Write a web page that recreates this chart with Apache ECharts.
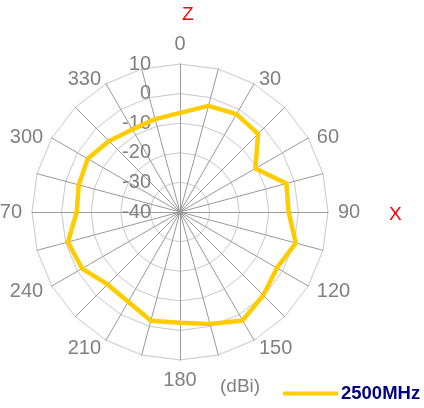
<!DOCTYPE html>
<html>
<head>
<meta charset="utf-8">
<script src="https://cdn.jsdelivr.net/npm/echarts@6/dist/echarts.min.js"></script>
<style>
  html, body { margin: 0; padding: 0; background: #fff; }
  #chart { width: 424px; height: 408px; }
</style>
</head>
<body>
<div id="chart"></div>
<script>
// Radiation pattern, gain in dBi, sampled every 15 degrees clockwise from Z (0°)
const angles = [0, 15, 30, 45, 60, 75, 90, 105, 120, 135, 150, 165,
                180, 195, 210, 225, 240, 255, 270, 285, 300, 315, 330, 345];
const gain2500 = [-6.5, -2.9, -1.8, -2.7, -10.6, -2.8, -3.3, 0.5, -2.2, -0.2, 2.3, -0.8,
                  -2.6, -2.0, -5.0, -5.4, -1.8, -0.8, -5.1, -4.6, -4.0, -6.1, -7.8, -7.5];
const seriesName = '2500MHz';
const gainMin = -40;
const gainMax = 10;

const FONT = 'Liberation Sans, Arial, sans-serif';
const GREY = '#808080';

// Radar indicators run counter-clockwise from the top, so walk the angles backwards
const order = angles.map((_, i) => (angles.length - i) % angles.length);
const indicators = order.map((idx, i) => {
  const deg = angles[idx];
  const ind = { name: deg % 30 === 0 ? String(deg) : '', min: gainMin, max: gainMax };
  if (i === 0) ind.axisLabel = { show: true };
  return ind;
});
const values = order.map(idx => gain2500[idx]);

// the upper diagonal angle names sit a little lower, closer to their spokes
const lowered = ['30', '60', '300', '330'];

const chart = echarts.init(document.getElementById('chart'), null, { renderer: 'canvas' });
chart.setOption({
  animation: false,
  backgroundColor: '#fff',
  legend: {
    left: 283, top: 384, padding: 0,
    icon: 'rect', itemWidth: 55, itemHeight: 4, itemGap: 0,
    data: [seriesName],
    textStyle: { color: '#000080', fontWeight: 'bold', fontSize: 18.5, fontFamily: FONT, padding: [0, 0, 0, -2] }
  },
  radar: {
    center: [180, 212],
    radius: 148,
    startAngle: 90,
    shape: 'polygon',
    splitNumber: 5,
    indicator: indicators,
    axisName: {
      color: GREY, fontSize: 20, fontFamily: FONT,
      formatter: name => lowered.includes(name) ? '{low|' + name + '}' : name,
      rich: { low: { color: GREY, fontSize: 20, fontFamily: FONT, padding: [0, 0, -8, 0] } }
    },
    nameGap: 10,
    axisLine: { lineStyle: { color: '#999', width: 1 } },
    splitLine: { lineStyle: { color: '#c8c8c8', width: 1 } },
    splitArea: { show: false },
    axisTick: { show: false },
    axisLabel: { show: false, color: GREY, fontSize: 20, fontFamily: FONT, margin: 29 }
  },
  graphic: [
    { type: 'text', left: 182, top: 5, style: { text: 'Z', fill: '#ff0000', fontSize: 19, fontFamily: FONT } },
    { type: 'text', left: 389, top: 205, style: { text: 'X', fill: '#ff0000', fontSize: 19, fontFamily: FONT } },
    { type: 'text', left: 220, top: 377, style: { text: '(dBi)', fill: GREY, fontSize: 19, fontFamily: FONT } }
  ],
  series: [{
    type: 'radar',
    name: seriesName,
    symbol: 'none',
    lineStyle: { color: '#ffcc00', width: 4.5 },
    itemStyle: { color: '#ffcc00' },
    data: [{ name: seriesName, value: values }]
  }]
});
</script>
</body>
</html>
